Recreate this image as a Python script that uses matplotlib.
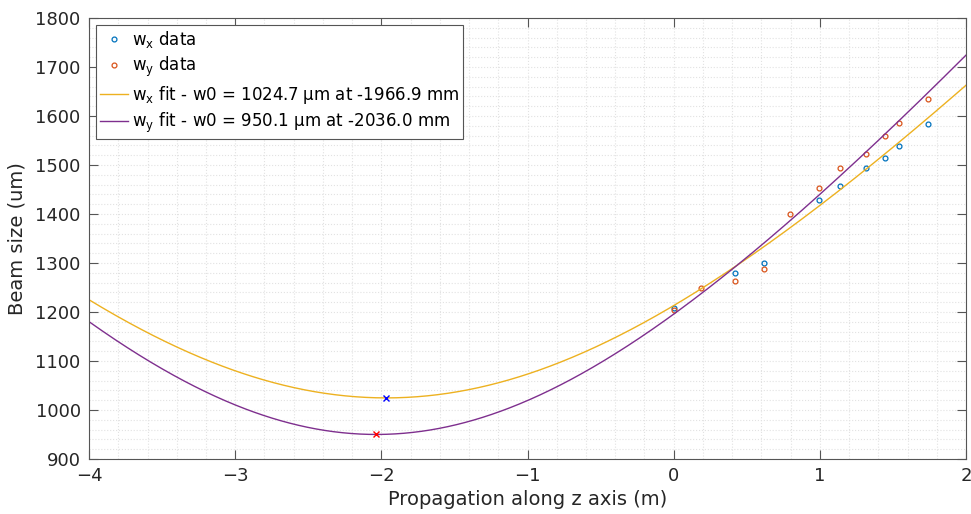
import numpy as np
import matplotlib
matplotlib.use("Agg")
from matplotlib import pyplot as plt
from matplotlib.ticker import MultipleLocator

# measured beam sizes (um) along z (m)
z_x = [0.0, 0.417, 0.616, 0.992, 1.14, 1.318, 1.444, 1.544, 1.742]
w_x = [1209, 1279, 1299, 1428, 1458, 1493, 1514, 1539, 1584]
z_y = [0.0, 0.189, 0.417, 0.616, 0.794, 0.992, 1.14, 1.318, 1.444, 1.544, 1.742]
w_y = [1204, 1248, 1263, 1288, 1399, 1454, 1493, 1523, 1559, 1586, 1634]

# fitted gaussian beam parameters: waist (um), waist position (m), rayleigh range (m)
w0_x, z0_x, zr_x = 1024.7, -1.9669, 3.104
w0_y, z0_y, zr_y = 950.1, -2.0360, 2.665

c_blue = "#0072BD"
c_orange = "#D95319"
c_yellow = "#EDB120"
c_purple = "#7E2F8E"
txt = "#262626"

plt.rcParams['font.family'] = 'DejaVu Sans'
fig = plt.figure(figsize=(9.71, 5.14), dpi=100)
ax = fig.add_axes([0.0917, 0.107, 0.9032, 0.858])

z = np.linspace(-4, 2, 600)
fit_x = w0_x * np.sqrt(1 + ((z - z0_x) / zr_x) ** 2)
fit_y = w0_y * np.sqrt(1 + ((z - z0_y) / zr_y) ** 2)

ax.plot(z_x, w_x, 'o', mfc='none', mec=c_blue, ms=3.5, mew=0.9, label=r"w$_\mathregular{x}$ data")
ax.plot(z_y, w_y, 'o', mfc='none', mec=c_orange, ms=3.5, mew=0.9, label=r"w$_\mathregular{y}$ data")
ax.plot(z, fit_x, color=c_yellow, lw=1.0,
        label=r"w$_\mathregular{x}$ fit - w0 = %.1f µm at %.1f mm" % (w0_x, z0_x * 1000))
ax.plot(z, fit_y, color=c_purple, lw=1.0,
        label=r"w$_\mathregular{y}$ fit - w0 = %.1f µm at %.1f mm" % (w0_y, z0_y * 1000))
ax.plot([z0_x], [w0_x], 'x', color='b', ms=4.5, mew=1.0)
ax.plot([z0_y], [w0_y], 'x', color='r', ms=4.5, mew=1.0)

ax.set_xlim(-4, 2)
ax.set_ylim(900, 1800)
ax.xaxis.set_major_locator(MultipleLocator(1))
ax.xaxis.set_minor_locator(MultipleLocator(0.2))
ax.yaxis.set_major_locator(MultipleLocator(100))
ax.yaxis.set_minor_locator(MultipleLocator(20))
ax.grid(which='both', linestyle=':', color='#e2e2e2', linewidth=0.8)
ax.set_axisbelow(True)

ax.tick_params(which='major', direction='in', length=6.5, width=0.8, color='#555555',
               top=True, right=True, labelsize=13, labelcolor=txt, pad=6)
ax.tick_params(which='minor', length=0, top=True, right=True)
for s in ax.spines.values():
    s.set_color('#555555')
    s.set_linewidth(0.8)

ax.set_xlabel("Propagation along z axis (m)", fontsize=14, color=txt, labelpad=3)
ax.set_ylabel("Beam size (um)", fontsize=14, color=txt, labelpad=6)

leg = ax.legend(loc='upper left', fontsize=12, handlelength=1.7, handletextpad=0.2,
                borderaxespad=0.4, labelspacing=0.3, fancybox=False, framealpha=1,
                edgecolor='#555555', borderpad=0.25)
leg.get_frame().set_linewidth(0.8)

plt.savefig("out.png", dpi=100)
